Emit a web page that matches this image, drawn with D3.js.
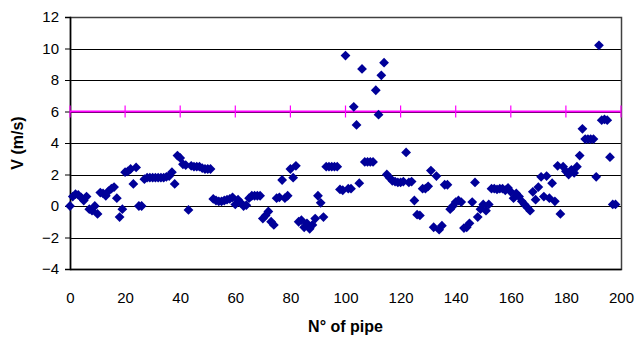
<!DOCTYPE html>
<html>
<head>
<meta charset="utf-8">
<script src="https://cdn.jsdelivr.net/npm/d3@7"></script>
<style>
  body { margin: 0; background: #fff; }
  svg { display: block; font-family: "Liberation Sans", Arial, sans-serif; }
</style>
</head>
<body>
<svg id="chart" width="642" height="347"></svg>
<script>
// velocity per pipe, pipe number = index (0..198)
var velocity = [
  0.0, 0.6, 0.75, 0.7, 0.55, 0.35, 0.6, -0.2, -0.3, 0.0,
  -0.5, 0.85, 0.8, 0.65, 0.95, 1.1, 1.2, 0.5, -0.7, -0.2,
  2.15, 2.2, 2.35, 1.4, 2.45, 0.0, 0.0, 1.7, 1.8, 1.8,
  1.8, 1.8, 1.8, 1.8, 1.8, 1.85, 1.9, 2.15, 1.4, 3.2,
  3.05, 2.65, 2.6, -0.25, 2.55, 2.5, 2.5, 2.5, 2.4, 2.35,
  2.35, 2.35, 0.45, 0.35, 0.3, 0.3, 0.35, 0.4, 0.45, 0.55,
  0.1, 0.4, 0.2, 0.0, 0.05, 0.5, 0.65, 0.65, 0.65, 0.65,
  -0.8, -0.6, -0.35, -1.0, -1.2, 0.5, 0.55, 1.65, 0.5, 0.65,
  2.35, 1.8, 2.55, -1.0, -0.9, -1.35, -1.1, -1.45, -1.2, -0.8,
  0.65, 0.2, -0.7, 2.5, 2.5, 2.5, 2.5, 2.5, 1.05, 1.0,
  9.55, 1.1, 1.1, 6.3, 5.15, 1.45, 8.7, 2.8, 2.8, 2.8,
  2.8, 7.35, 5.8, 8.3, 9.1, 2.0, 1.8, 1.6, 1.55, 1.5,
  1.5, 1.55, 3.4, 1.5, 1.55, 0.35, -0.55, -0.6, 1.1, 1.1,
  1.25, 2.25, -1.35, 1.9, -1.5, -1.25, 1.35, 1.35, -0.2, 0.0,
  0.25, 0.35, 0.25, -1.4, -1.35, -1.1, 0.25, 1.5, -0.7, -0.2,
  0.1, -0.3, 0.1, 1.1, 1.1, 1.05, 1.1, 1.1, 1.0, 1.15,
  0.9, 0.5, 0.8, 0.6, 0.3, 0.1, -0.1, -0.3, 0.9, 0.4,
  1.2, 1.85, 0.6, 1.9, 0.5, 1.45, 0.3, 2.55, -0.5, 2.5,
  2.2, 2.0, 2.3, 2.1, 2.5, 3.2, 4.9, 4.25, 4.25, 4.25,
  4.25, 1.85, 10.2, 5.45, 5.5, 5.45, 3.1, 0.1, 0.1
];
var limitPipes = [0, 20, 40, 60, 80, 100, 120, 140, 160, 180, 200];
var limitValue = 6;
var xTicks = [0, 20, 40, 60, 80, 100, 120, 140, 160, 180, 200];
var yTicks = [-4, -2, 0, 2, 4, 6, 8, 10, 12];

var svg = d3.select("#chart");
var margin = { top: 17, right: 21, bottom: 78, left: 70 },
  width = 642 - margin.left - margin.right,
  height = 347 - margin.top - margin.bottom;

var g = svg.append("g")
  .attr("transform", "translate(" + margin.left + "," + margin.top + ")");

var x = d3.scaleLinear().domain([0, 200]).range([0, width]);
var y = d3.scaleLinear().domain([-4, 12]).range([height, 0]);

// horizontal gridlines
g.append("g")
  .selectAll("line")
  .data(yTicks)
  .join("line")
  .attr("x1", 0).attr("x2", width)
  .attr("y1", d => Math.round(y(d)) + 0.5).attr("y2", d => Math.round(y(d)) + 0.5)
  .attr("stroke", "#000")
  .attr("stroke-width", 1);

// plot frame
g.append("rect")
  .attr("x", 0.5).attr("y", 0.5)
  .attr("width", width).attr("height", height)
  .attr("fill", "none")
  .attr("stroke", "#404040")
  .attr("stroke-width", 1.5);

// y axis
var yAxis = g.append("g")
  .call(d3.axisLeft(y).tickValues(yTicks).tickSize(5).tickPadding(6));
yAxis.select(".domain").attr("stroke", "#000").attr("stroke-width", 1.5);
yAxis.selectAll(".tick line").attr("stroke", "#000");
yAxis.selectAll("text").attr("font-size", "15px").attr("fill", "#000")
  .attr("font-family", "Liberation Sans, Arial, sans-serif");

// x axis (labels only)
var xAxis = g.append("g")
  .attr("transform", "translate(0," + height + ")")
  .call(d3.axisBottom(x).tickValues(xTicks).tickSize(0).tickPadding(23));
xAxis.select(".domain").attr("stroke", "#000").attr("stroke-width", 1.5);
xAxis.selectAll("text").attr("font-size", "15px").attr("fill", "#000")
  .attr("font-family", "Liberation Sans, Arial, sans-serif");

// limit line at 6 m/s with tick marks
g.append("path")
  .datum(limitPipes)
  .attr("fill", "none")
  .attr("stroke", "#ff00ff")
  .attr("stroke-width", 2)
  .attr("d", d3.line().x(d => x(d)).y(() => y(limitValue)));
g.append("g")
  .selectAll("line")
  .data(limitPipes)
  .join("line")
  .attr("x1", d => x(d)).attr("x2", d => x(d))
  .attr("y1", y(limitValue) - 6).attr("y2", y(limitValue) + 6)
  .attr("stroke", "#ff00ff")
  .attr("stroke-width", 1.2);

// velocity markers (diamonds)
var diamond = d3.symbol().type(d3.symbolSquare).size(48);
g.append("g")
  .selectAll("path")
  .data(velocity)
  .join("path")
  .attr("d", diamond)
  .attr("transform", (d, i) => "translate(" + x(i) + "," + y(d) + ") rotate(45)")
  .attr("fill", "#000099");

// axis titles
svg.append("text")
  .attr("transform", "translate(23," + (margin.top + y(4)) + ") rotate(-90)")
  .attr("text-anchor", "middle")
  .attr("font-size", "16px")
  .attr("font-weight", "bold")
  .text("V (m/s)");

svg.append("text")
  .attr("x", margin.left + width / 2)
  .attr("y", 332)
  .attr("text-anchor", "middle")
  .attr("font-size", "16px")
  .attr("font-weight", "bold")
  .text("N° of pipe");
</script>
</body>
</html>
